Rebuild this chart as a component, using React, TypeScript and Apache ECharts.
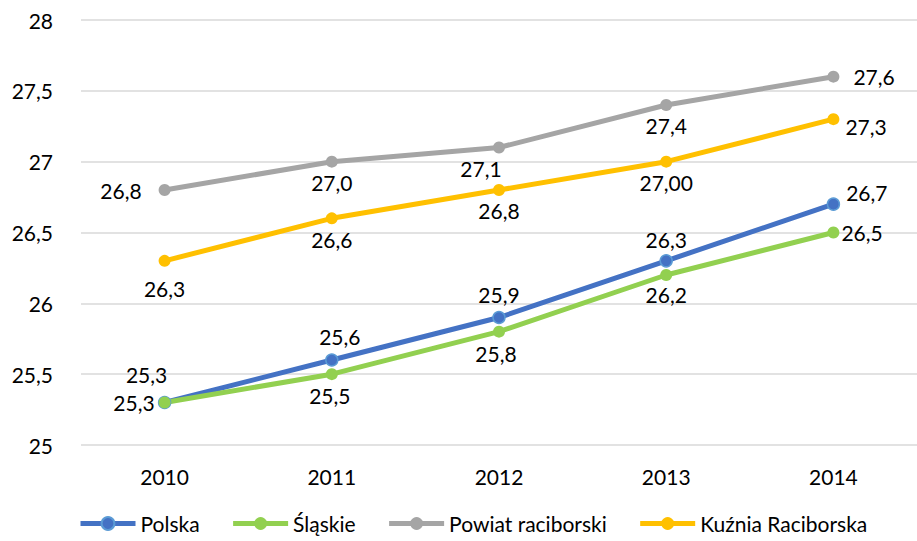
import React, { useEffect, useRef } from "react";
import * as echarts from "echarts";

const years = ["2010", "2011", "2012", "2013", "2014"];
const polska = [25.3, 25.6, 25.9, 26.3, 26.7];
const slaskie = [25.3, 25.5, 25.8, 26.2, 26.5];
const powiat = [26.8, 27.0, 27.1, 27.4, 27.6];
const kuznia = [26.3, 26.6, 26.8, 27.0, 27.3];
const kuzniaLabels = ["26,3", "26,6", "26,8", "27,00", "27,3"];
const seriesNames = ["Polska", "Śląskie", "Powiat raciborski", "Kuźnia Raciborska"];

const FONT = "Lato, 'Liberation Sans', sans-serif";
const FS = 21;

type LP = { position: string; offset?: number[]; distance?: number };

const fmt = (v: number) => v.toFixed(1).replace(".", ",");

function build(values: number[], labels: string[], lp: LP[]) {
  return values.map((v, i) => ({
    value: v,
    label: {
      show: true,
      position: lp[i].position,
      offset: lp[i].offset || [0, 0],
      distance: lp[i].distance ?? 5,
      formatter: labels[i],
    },
  }));
}

export default function App() {
  const ref = useRef<HTMLDivElement>(null);
  useEffect(() => {
    if (!ref.current) return;
    const chart = echarts.init(ref.current, undefined, { renderer: "svg" });
    const polskaLP: LP[] = [
      { position: "top", offset: [-18, -6] },
      { position: "top", offset: [8, 0], distance: 6 },
      { position: "top", distance: 6 },
      { position: "top", distance: 4 },
      { position: "right", offset: [0, -12], distance: 6 },
    ];
    const slaskieLP: LP[] = [
      { position: "left", distance: 4 },
      { position: "bottom", offset: [-2, 0] },
      { position: "bottom", offset: [-3, 0] },
      { position: "bottom", distance: 3 },
      { position: "right", distance: 2 },
    ];
    const powiatLP: LP[] = [
      { position: "left", distance: 17 },
      { position: "bottom", distance: 4 },
      { position: "bottom", offset: [-18, 0], distance: 4 },
      { position: "bottom", distance: 4 },
      { position: "right", distance: 14 },
    ];
    const kuzniaLP: LP[] = [
      { position: "bottom", distance: 11 },
      { position: "bottom", distance: 5 },
      { position: "bottom", distance: 4 },
      { position: "bottom", distance: 4 },
      { position: "right", offset: [0, 7], distance: 6 },
    ];
    const mk = (
      name: string,
      color: string,
      values: number[],
      labels: string[],
      lp: LP[],
      border?: string
    ) => ({
      name,
      type: "line",
      data: build(values, labels, lp),
      symbol: "circle",
      symbolSize: 12,
      lineStyle: { color, width: 5 },
      itemStyle: border
        ? { color, borderColor: border, borderWidth: 1.5 }
        : { color },
      label: {
        show: true,
        color: "#000",
        fontSize: FS,
        fontFamily: FONT,
      },
    });
    chart.setOption({
      animation: false,
      textStyle: { fontFamily: FONT },
      grid: { left: 81, width: 837, top: 20, bottom: 96 },
      legend: {
        bottom: 2,
        left: 73,
        itemWidth: 55,
        itemHeight: 16,
        itemGap: 31,
        lineStyle: { width: 5 },
        textStyle: { fontSize: FS, color: "#000", fontFamily: FONT },
        data: seriesNames,
      },
      xAxis: {
        type: "category",
        data: years,
        boundaryGap: true,
        axisLine: { show: false },
        axisTick: { show: false },
        axisLabel: { fontSize: FS, color: "#000", margin: 21, fontFamily: FONT },
      },
      yAxis: {
        type: "value",
        min: 25,
        max: 28,
        interval: 0.5,
        axisLabel: {
          fontSize: FS,
          color: "#000",
          margin: 28,
          fontFamily: FONT,
          formatter: (v: number) => (Number.isInteger(v) ? String(v) : fmt(v)),
        },
        splitLine: { lineStyle: { color: "#d9d9d9", width: 1.5 } },
      },
      series: [
        mk("Polska", "#4472C4", polska, polska.map(fmt), polskaLP, "#5B9BD5"),
        mk("Śląskie", "#92D050", slaskie, slaskie.map(fmt), slaskieLP),
        mk("Powiat raciborski", "#A5A5A5", powiat, powiat.map(fmt), powiatLP),
        mk("Kuźnia Raciborska", "#FFC000", kuznia, kuzniaLabels, kuzniaLP),
      ],
    });
    return () => chart.dispose();
  }, []);
  return <div ref={ref} style={{ width: 917, height: 541, position: "absolute", left: 0, top: 0 }} />;
}
